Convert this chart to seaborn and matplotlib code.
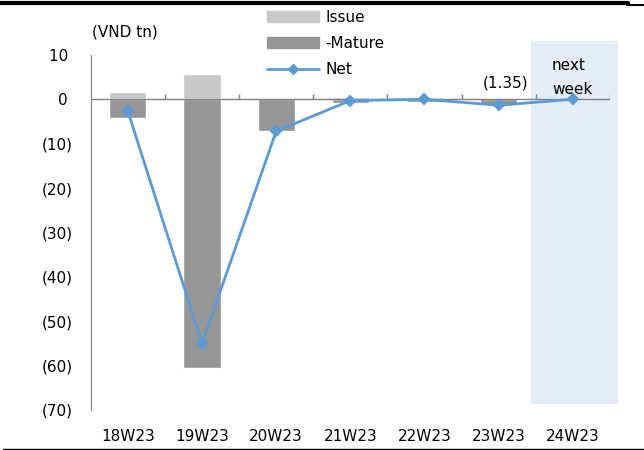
import numpy as np
import seaborn as sns
import matplotlib.pyplot as plt
from matplotlib.patches import Patch, Rectangle
from matplotlib.lines import Line2D

weeks = ['18W23', '19W23', '20W23', '21W23', '22W23', '23W23', '24W23']
issue = [1.6, 5.6, 0.0, 0.5, 0.6, 0.0, 0.0]
mature = [-4.3, -60.6, -7.2, -0.8, -0.6, -1.35, 0.0]
net = [-2.7, -55.0, -7.2, -0.3, 0.0, -1.35, 0.0]
yticks = [10, 0, -10, -20, -30, -40, -50, -60, -70]

c_issue = '#c8c8c8'
c_mature = '#969696'
c_net = '#5b9bd5'

sns.set_style('white')
plt.rcParams['font.family'] = ['DejaVu Sans']
plt.rcParams['font.size'] = 11
plt.rcParams['text.color'] = 'black'
plt.rcParams['xtick.color'] = 'black'
plt.rcParams['ytick.color'] = 'black'

fig = plt.figure(figsize=(6.44, 4.5), dpi=100)
ax = fig.add_axes([0.141, 0.089, 0.806, 0.789])

# shaded "next week" box
ax.add_patch(Rectangle((5.43, -68.5), 1.17, 81.6, color='#e3edf7', zorder=0, clip_on=False))

sns.barplot(x=weeks, y=issue, color=c_issue, width=0.5, ax=ax, zorder=2)
sns.barplot(x=weeks, y=mature, color=c_mature, width=0.5, ax=ax, zorder=2)
sns.pointplot(x=weeks, y=net, color=c_net, markers='D', markersize=5, linewidth=2, ax=ax, zorder=4)

ax.set_xlim(-0.5, 6.5)
ax.set_ylim(-70, 10)

# zero axis with boundary ticks pointing up
ax.axhline(0, color='#7f7f7f', lw=1, zorder=3)
bounds = np.arange(0.5, len(weeks), 1.0)
ax.vlines(bounds, 0, 1.3, color='#7f7f7f', lw=1, zorder=3)

for s in ['top', 'right', 'bottom']:
    ax.spines[s].set_visible(False)
ax.spines['left'].set_color('#7f7f7f')
ax.set_yticks(yticks)
ax.set_yticklabels([f'({-v})' if v < 0 else f'{v} ' for v in yticks])
ax.tick_params(axis='y', direction='in', length=5, color='#7f7f7f', labelcolor='black', labelsize=11, pad=13)
ax.tick_params(axis='x', length=0, labelcolor='black', labelsize=11, pad=14)
ax.set_xlabel('')
ax.set_ylabel('')

ax.text(-0.04, 15.1, '(VND tn)', fontsize=11, ha='center', va='center', clip_on=False)
ax.text(5.09, 3.6, '(1.35)', fontsize=11, ha='center', va='center')
ax.text(5.94, 7.7, 'next', fontsize=11, ha='center', va='center')
ax.text(6.0, 2.1, 'week', fontsize=11, ha='center', va='center')

handles = [Patch(color=c_issue), Patch(color=c_mature),
           Line2D([], [], color=c_net, lw=2, marker='D', markersize=5)]
fig.legend(handles, ['Issue', '-Mature', 'Net'], loc='upper left',
           bbox_to_anchor=(0.408, 0.988), frameon=False, handlelength=3.4,
           handleheight=0.7, handletextpad=0.4, labelspacing=0.72, fontsize=11,
           borderaxespad=0, borderpad=0.3, labelcolor='black')

fig.add_artist(Line2D([0, 0.975], [0.994, 0.994], color='black', lw=3))
fig.add_artist(Line2D([0.973, 1], [0.99, 0.99], color='black', lw=1.5))
fig.add_artist(Line2D([0.005, 1], [0.003, 0.003], color='black', lw=1))

fig.savefig('out.png', dpi=100)
